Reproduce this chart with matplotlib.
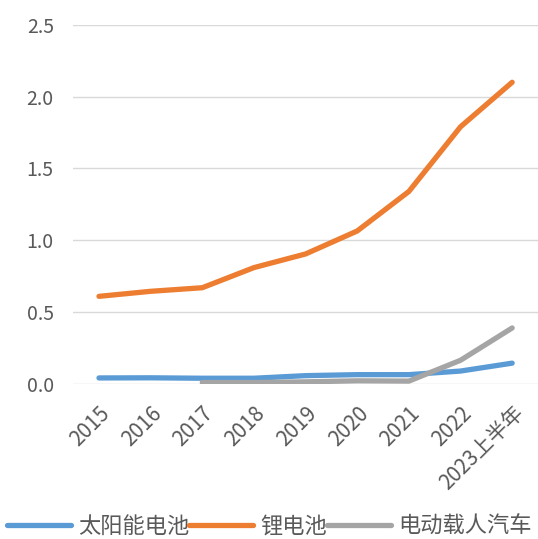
import matplotlib
matplotlib.use("Agg")
import matplotlib.pyplot as plt
import numpy as np

plt.rcParams['font.family'] = ['Noto Sans CJK SC', 'DejaVu Sans']

categories = ['2015', '2016', '2017', '2018', '2019', '2020', '2021', '2022', '2023上半年']
solar = [0.042, 0.043, 0.040, 0.040, 0.058, 0.065, 0.065, 0.09, 0.145]
lithium = [0.61, 0.645, 0.67, 0.81, 0.905, 1.065, 1.34, 1.79, 2.10]
ev = [None, None, 0.01, 0.01, 0.015, 0.022, 0.02, 0.165, 0.39]
series_names = ['太阳能电池', '锂电池', '电动载人汽车']
yticks = [0.0, 0.5, 1.0, 1.5, 2.0, 2.5]

fig = plt.figure(figsize=(5.38, 5.39), dpi=100)
ax = fig.add_axes([0.136, 0.2876, 0.864, 0.6664])

x = np.arange(len(categories))
ev_arr = np.array([np.nan if v is None else v for v in ev], dtype=float)

lw = 3.8
l1, = ax.plot(x, solar, color='#5B9BD5', lw=lw, solid_capstyle='round', label=series_names[0])
l2, = ax.plot(x, lithium, color='#ED7D31', lw=lw, solid_capstyle='round', label=series_names[1])
l3, = ax.plot(x, ev_arr, color='#A5A5A5', lw=lw, solid_capstyle='round', label=series_names[2])

ax.set_xlim(-0.5, len(categories) - 0.5)
ax.set_ylim(0, 2.5)
ax.set_yticks(yticks)
ax.set_yticklabels([f'{v:.1f}' for v in yticks])
ax.set_xticks(x)
ax.set_xticklabels(categories, rotation=45, ha='right', rotation_mode='anchor')
ax.grid(axis='y', color='#D9D9D9', lw=1.0)
ax.set_axisbelow(True)
for s in ax.spines.values():
    s.set_visible(False)
ax.tick_params(axis='both', length=0, colors='#595959')
ax.tick_params(axis='y', pad=14, labelsize=14)
ax.tick_params(axis='x', pad=13, labelsize=15)

fig.legend(handles=[l1, l2, l3], loc='center', bbox_to_anchor=(0.5, 0.024),
           ncol=3, frameon=False, fontsize=16, handlelength=2.9, handletextpad=0.3,
           columnspacing=0.0, labelcolor='#595959', borderpad=0.0)

fig.savefig('out.png', dpi=100)
